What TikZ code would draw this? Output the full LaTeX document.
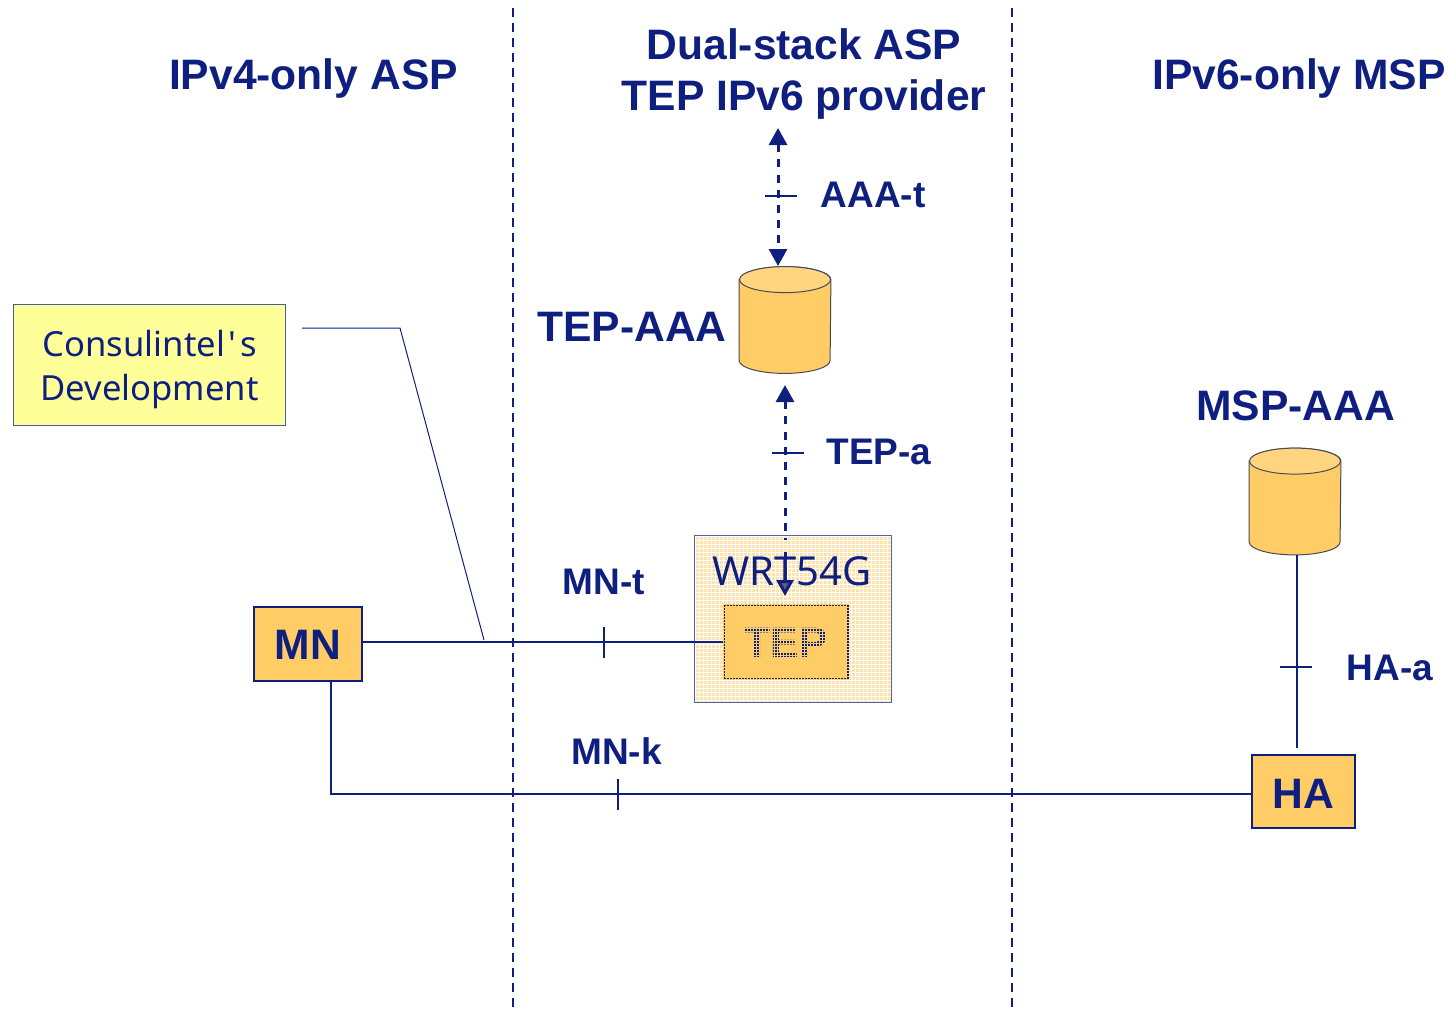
\documentclass[tikz,border=0pt]{standalone}
\usepackage{fontspec}
\setmainfont{Liberation Sans}
\newfontfamily\tah{Noto Sans}
\usetikzlibrary{arrows.meta}
\definecolor{navy}{HTML}{0F1F7F}
\definecolor{gold}{HTML}{FFCC66}
\definecolor{goldtop}{HTML}{FFD580}
\definecolor{lemon}{HTML}{FFFF99}
\definecolor{pale}{HTML}{FEE2AC}
\definecolor{rim}{HTML}{4A4A55}
\newcommand{\dbdraw}[1]{%
  \draw[draw=rim,line width=0.5pt,fill=gold]
    ([yshift=-6.5pt]#1.north west) -- ([yshift=6.5pt]#1.south west)
    arc[start angle=180,end angle=360,x radius=22.75pt,y radius=6.5pt]
    -- ([yshift=-6.5pt]#1.north east)
    arc[start angle=0,end angle=180,x radius=22.75pt,y radius=6.5pt] -- cycle;
  \draw[draw=rim,line width=0.5pt,fill=goldtop]
    ([yshift=-6.5pt]#1.north) ellipse[x radius=22.75pt,y radius=6.5pt];}
\tikzset{
  boxlabel/.style={font=\bfseries\fontsize{21.3}{24}\selectfont,text=navy,inner sep=0pt,anchor=base},
  linklabel/.style={font=\bfseries\fontsize{18.5}{22}\selectfont,text=navy,inner sep=0pt,anchor=base},
  thintext/.style={font=\tah\fontsize{17.3}{22}\selectfont,text=navy,inner sep=0pt,anchor=base},
  solidbox/.style={draw=navy,line width=0.9pt,fill=gold,inner sep=0pt},
  db/.style={inner sep=0pt,minimum height=53pt,minimum width=45.5pt},
  link/.style={draw=navy,line width=1.35pt},
  dashlink/.style={draw=navy,line width=1.5pt,dash pattern=on 4pt off 3.6pt},
  boundary/.style={draw=navy,line width=1.3pt,dash pattern=on 4.5pt off 3pt},
  tick/.style={draw=navy,line width=0.7pt},
  headboth/.style={{Triangle[length=8.5pt,width=9pt]}-{Triangle[length=8.5pt,width=9pt]}},
  headstart/.style={{Triangle[length=8.5pt,width=9pt]}-},
  headend/.style={-{Triangle[length=8pt,width=8.5pt,fill=navy!65!gold]}},
}
\begin{document}
\begin{tikzpicture}[x=0.5pt,y=-0.5pt]
\useasboundingbox (0,0) rectangle (1450,1013);
% boundaries
\coordinate (b1t) at (513,8); \coordinate (b1b) at (513,1008);
\coordinate (b2t) at (1012,8); \coordinate (b2b) at (1012,1008);
\draw[boundary] (b1t) -- (b1b);
\draw[boundary] (b2t) -- (b2b);
% titles
\node[boxlabel] (t1) at (313.5,89) {IPv4-only ASP};
\node[boxlabel] (t2) at (804,59) {Dual-stack ASP};
\node[boxlabel] (t3) at (804,110) {TEP IPv6 provider};
\node[boxlabel] (t4) at (1299,89) {IPv6-only MSP};
% yellow note
\node[draw=navy!75,line width=0.5pt,fill=lemon,minimum width=136pt,minimum height=60.5pt,inner sep=0pt] (note) at (149.5,364.5) {};
\node[thintext] (n1) at (150,356) {Consulintel\kern2pt'\kern2pt s};
\node[thintext] (n2) at (149.5,400) {Development};
% WRT box
\node[draw=none,fill=pale,minimum width=98pt,minimum height=83pt,inner sep=0pt] (wrt) at (793,619) {};
\begin{scope}
\clip (695,536) rectangle (891,702);
\foreach \g in {0,4,...,200} {\draw[white,line width=0.4pt] (695+\g,536) -- (695+\g,702);}
\foreach \g in {0,4,...,168} {\draw[white,line width=0.4pt] (695,536+\g) -- (891,536+\g);}
\end{scope}
\draw[navy!70,line width=0.6pt] (wrt.south west) rectangle (wrt.north east);
% boxes and solid links
\node[solidbox,minimum width=54pt,minimum height=37pt] (mn) at (308,644) {};
\node[draw=navy,line width=0.9pt,fill=gold,inner sep=0pt,minimum width=62pt,minimum height=37pt] (tep) at (786,642) {};
\node[solidbox,minimum width=51.5pt,minimum height=36.5pt] (ha) at (1303.5,791.5) {};
\coordinate (mnl) at (331,681);
\coordinate (cornerk) at (331,794);
\draw[link] (mn.east |- 0,642) -- (tep.west |- 0,642);
\draw[link] (mnl) -- (cornerk) -- (ha.west |- cornerk);
\node[boxlabel,font=\bfseries\fontsize{21.3}{24}\selectfont] (teplabel) at (786,657) {TEP};
% texture over TEP
\begin{scope}
\clip (tep.south west) rectangle (tep.north east);
\foreach \g in {-1,2,...,125} {\draw[gold,line width=0.16pt] (724+\g,600) -- (724+\g,684);}
\foreach \g in {-1,2,...,77} {\draw[gold,line width=0.16pt] (720,605+\g) -- (852,605+\g);}
\end{scope}
\node[thintext,font=\tah\fontsize{20}{24}\selectfont] (wrtl) at (792,585) {WRT54G};
% labels
\node[boxlabel] (mnlab) at (308,659) {MN};
\node[boxlabel] (halab) at (1303,808) {HA};
\node[boxlabel] (tepaaa) at (632,341) {TEP-AAA};
\node[boxlabel] (mspaaa) at (1295.5,420) {MSP-AAA};
\node[linklabel] (l1) at (873,207) {AAA-t};
\node[linklabel] (l2) at (879,464) {TEP-a};
\node[linklabel] (l3) at (604,594) {MN-t};
\node[linklabel] (l4) at (616.5,764) {MN-k};
\node[linklabel] (l5) at (1390,680) {HA-a};
% databases
\node[db] (aaa) at (785,320) {};
\node[db] (msp) at (1295,501.5) {};
\dbdraw{aaa}
\dbdraw{msp}
% dashed links
\coordinate (aaatop) at (778,128);
\coordinate (aaabot) at (778,266);
\draw[dashlink,headboth] (aaatop) -- (aaabot);
\coordinate (tepabove) at (785,385);
\coordinate (tepgap) at (785,540);
\coordinate (tepmid) at (785,552);
\coordinate (tepbelow) at (785,596);
\draw[dashlink,headstart] (tepabove) -- (tepgap);
\draw[dashlink,headend] (tepmid) -- (tepbelow);
% HA-a
\coordinate (hatop) at (1297,748);
\draw[link] (msp.south -| hatop) -- (hatop);
% ticks
\coordinate (k1a) at (765,196); \coordinate (k1b) at (797,196);
\coordinate (k2a) at (772,453); \coordinate (k2b) at (804,453);
\coordinate (k3a) at (604,627); \coordinate (k3b) at (604,658);
\coordinate (k4a) at (618,779); \coordinate (k4b) at (618,810);
\coordinate (k5a) at (1280,667); \coordinate (k5b) at (1312,667);
\draw[tick] (k1a) -- (k1b);
\draw[tick] (k2a) -- (k2b);
\draw[tick] (k3a) -- (k3b);
\draw[tick] (k4a) -- (k4b);
\draw[tick] (k5a) -- (k5b);
% callout
\coordinate (c1) at (302,328); \coordinate (c2) at (400,328); \coordinate (c3) at (484,640);
\draw[navy,line width=0.5pt] (c1) -- (c2) -- (c3);
\end{tikzpicture}
\end{document}
